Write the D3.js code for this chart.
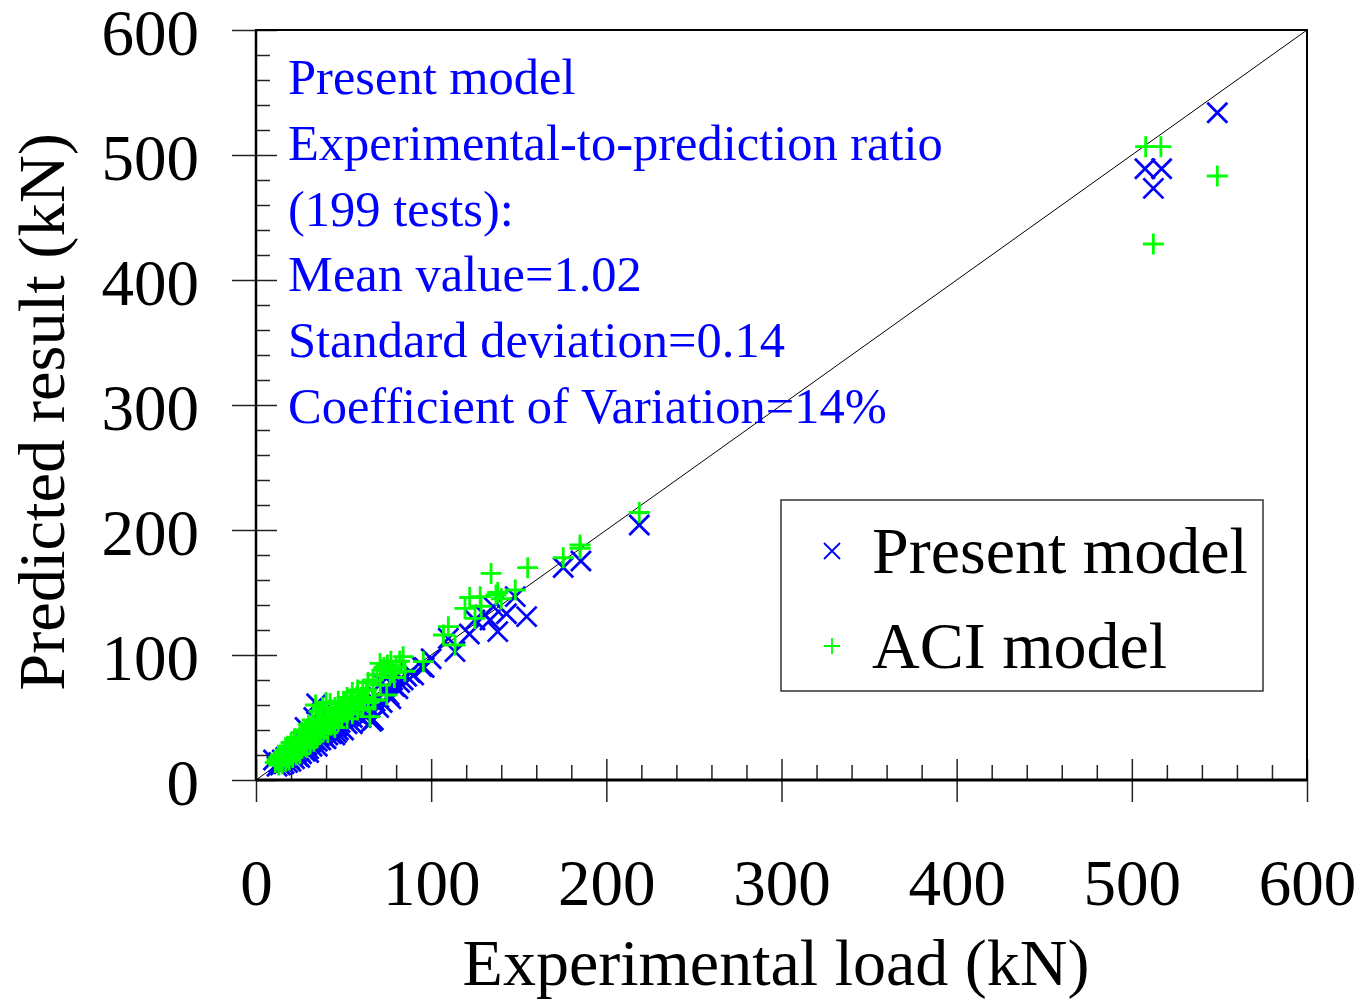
<!DOCTYPE html>
<html>
<head>
<meta charset="utf-8">
<script src="https://cdn.jsdelivr.net/npm/d3@7"></script>
<style>
  body { margin: 0; background: #fff; }
  svg { display: block; font-family: "Liberation Serif", "Times New Roman", serif; }
</style>
</head>
<body>
<div id="chart"></div>
<script>
// Present model predictions [experimental, predicted] (kN)
const presentModel = [
  [10,16],[12,11],[13,14],[14,12],[15,16],[16,13],[17,18],[18,14],[19,17],[20,15],
  [21,20],[22,17],[23,22],[24,19],[25,23],[26,21],[27,26],[28,23],[29,28],[30,25],
  [31,30],[32,27],[33,32],[34.6,61],[35,31],[36,35],[37,32],[38,37],[39,34],[40,39],
  [41,36],[42,41],[43,37],[44,43],[46,43],[47,40],[48,46],[50,48],[52,45],[53,51],
  [55,50],[56,54],[58,52],[60,57],[61,53],[63,60],[65,58],[67,48],[68,63],[70,66],
  [72,62],[74,71],[76,68],[77,65],[79,75],[81,73],[84,80],[86,83],[88,86],[90,84],
  [25,18],[30,22],[35,27],[40,33],[45,36],[50,40],[55,45],[60,50],[64,52],[70,58],
  [33,50],[38,54],[28,42],[72,78],[78,80],[82,78],[46,38],[66,47],
  [94.6,90.7],[96,90],[100,97],[109.8,113.3],[113.6,102.7],[121.8,116.8],[125,128],
  [130.7,132],[133.6,128],[135.5,138.7],[138,118.7],[143,133],[148,146.7],[154.5,130.7],
  [175.4,170],[185.5,175.2],[218.8,204],[507.5,489],[517,489],[512.3,473.3],[548.8,533.8]
];

// ACI model predictions [experimental, predicted] (kN)
const aciModel = [
  [11,14],[12,16],[13,12],[13,18],[14,15],[14,20],[15,13],[15,17],[16,19],[16,22],
  [17,15],[17,24],[18,18],[18,21],[19,26],[19,16],[20,20],[20,23],[21,25],[21,18],
  [22,28],[22,22],[23,20],[23,26],[24,30],[24,24],[25,27],[25,21],[26,32],[27,28],
  [27,35],[28,30],[29,26],[29,38],[30,33],[31,29],[31,40],[32,36],[33,31],[33,44],
  [34,38],[35,34],[35,46],[36,41],[37,37],[37,49],[38,43],[39,40],[40,45],[40,52],
  [41,38],[42,48],[42.3,61.3],[43,44],[43,55],[44,50],[45,42],[46,53],[47,47],[48,58],
  [49,51],[50,55],[51,60],[52,49],[53,57],[54,63],[55,53],[56,60],[57.5,66.7],[58,56],
  [59,63],[61,72],[61,58],[62,66],[63,72],[64,62],[65,50.7],[66.8,80],[66.8,64],[68,64],
  [20,30],[25,34],[28,40],[30,44],[32,48],[36,55],[38,58],[40,62],[34,60],[45,58],
  [47,63],[50,62],[26,38],[22,33],[18,27],[44,47],[52,66],[55,70],[58,72],[60,66],
  [64,78],[69,84],[71,76],[73,90],[77,95],[79,82],[82,95],
  [70.8,93.3],[72,88],[74.6,68],[75,92],[76.5,85.3],[78,86],[80,90],[84,98.7],[85,87],
  [95.5,94.7],[107,116],[109.8,122.7],[113.6,108],[119.3,137.3],[122,146],[125,129.3],
  [128,146.7],[128.5,139],[134.2,165.3],[137,148],[138,150],[140,145],[148,152],
  [155.1,169.9],[175.4,177.8],[185,185.3],[185,188],[218.8,214],
  [507.9,506.7],[516.6,506.7],[548.8,483.2],[512.3,428.8]
];

const majorTicks = [0, 100, 200, 300, 400, 500, 600];
const minorTicks = [20, 40, 60, 80, 120, 140, 160, 180, 220, 240, 260, 280, 320, 340, 360, 380,
                    420, 440, 460, 480, 520, 540, 560, 580];
const statsLines = [
  "Present model",
  "Experimental-to-prediction ratio",
  "(199 tests):",
  "Mean value=1.02",
  "Standard deviation=0.14",
  "Coefficient of Variation=14%"
];
const seriesNames = ["Present model", "ACI model"];
const seriesColors = ["#0000ff", "#00ff00"];

const W = 1363, H = 999;
const svg = d3.select("#chart").append("svg").attr("width", W).attr("height", H);

const x = d3.scaleLinear().domain([0, 600]).range([256, 1307]);
const y = d3.scaleLinear().domain([0, 600]).range([780, 30]);

const cross = s => `M${-s},${-s}L${s},${s}M${-s},${s}L${s},${-s}`;
const plus = s => `M${-s},0H${s}M0,${-s}V${s}`;

// minor ticks (inside)
svg.append("g").attr("transform", "translate(0,780)")
  .call(d3.axisBottom(x).tickValues(minorTicks).tickSize(-15).tickFormat(""))
  .call(g => g.select(".domain").remove());
svg.append("g").attr("transform", "translate(256,0)")
  .call(d3.axisLeft(y).tickValues(minorTicks).tickSize(-14).tickFormat(""))
  .call(g => g.select(".domain").remove());

// major ticks, inner part
svg.append("g").attr("transform", "translate(0,780)")
  .call(d3.axisBottom(x).tickValues(majorTicks).tickSize(-21).tickFormat(""))
  .call(g => g.select(".domain").remove());
svg.append("g").attr("transform", "translate(256,0)")
  .call(d3.axisLeft(y).tickValues(majorTicks).tickSize(-21).tickFormat(""))
  .call(g => g.select(".domain").remove());

// major ticks, outer part with labels
svg.append("g").attr("transform", "translate(0,780)")
  .call(d3.axisBottom(x).tickValues(majorTicks).tickSize(22).tickPadding(57))
  .call(g => g.select(".domain").remove())
  .call(g => g.selectAll("text").attr("font-size", 65).attr("fill", "#000")
    .attr("font-family", "Liberation Serif"));
svg.append("g").attr("transform", "translate(256,0)")
  .call(d3.axisLeft(y).tickValues(majorTicks).tickSize(24).tickPadding(33))
  .call(g => g.select(".domain").remove())
  .call(g => g.selectAll("text").attr("font-size", 65).attr("fill", "#000")
    .attr("font-family", "Liberation Serif").attr("dy", "0.37em"));

svg.selectAll(".tick line").attr("stroke", "#222").attr("stroke-width", 1.5);

// frame
svg.append("rect")
  .attr("x", x(0)).attr("y", y(600))
  .attr("width", x(600) - x(0)).attr("height", y(0) - y(600))
  .attr("fill", "none").attr("stroke", "#000").attr("stroke-width", 2);
svg.append("line")
  .attr("x1", x(0)).attr("x2", x(600)).attr("y1", y(0)).attr("y2", y(0))
  .attr("stroke", "#000").attr("stroke-width", 3);
svg.append("line")
  .attr("x1", x(0)).attr("x2", x(0)).attr("y1", y(0)).attr("y2", y(600))
  .attr("stroke", "#000").attr("stroke-width", 2.5);

// 1:1 line
svg.append("line")
  .attr("x1", x(0)).attr("y1", y(0)).attr("x2", x(600)).attr("y2", y(600))
  .attr("stroke", "#000").attr("stroke-width", 1);

// stats text
svg.append("g").selectAll("text")
  .data(statsLines).enter().append("text")
  .attr("x", 288)
  .attr("y", (d, i) => 94 + i * 65.8)
  .attr("font-size", 50.5)
  .attr("fill", "#0000ff")
  .text(d => d);

// points
svg.append("g").selectAll("path")
  .data(presentModel).enter().append("path")
  .attr("transform", d => `translate(${x(d[0])},${y(d[1])})`)
  .attr("d", cross(10))
  .attr("stroke", seriesColors[0]).attr("stroke-width", 2.8).attr("fill", "none");
svg.append("g").selectAll("path")
  .data(aciModel).enter().append("path")
  .attr("transform", d => `translate(${x(d[0])},${y(d[1])})`)
  .attr("d", plus(10.5))
  .attr("stroke", seriesColors[1]).attr("stroke-width", 2.8).attr("fill", "none");

// axis titles
svg.append("text")
  .attr("x", 776).attr("y", 985)
  .attr("text-anchor", "middle").attr("font-size", 66)
  .text("Experimental load (kN)");
svg.append("text")
  .attr("transform", "translate(64,412) rotate(-90)")
  .attr("text-anchor", "middle").attr("font-size", 66.5)
  .text("Predicted result (kN)");

// legend
const legend = svg.append("g");
legend.append("rect")
  .attr("x", 781).attr("y", 500).attr("width", 482).attr("height", 191)
  .attr("fill", "#fff").attr("stroke", "#333").attr("stroke-width", 1.5);
const items = legend.selectAll("g.item")
  .data(seriesNames).enter().append("g")
  .attr("transform", (d, i) => `translate(832,${551 + i * 95})`);
items.append("path")
  .attr("d", (d, i) => i === 0 ? cross(8) : plus(8))
  .attr("stroke", (d, i) => seriesColors[i]).attr("stroke-width", 1.8).attr("fill", "none");
items.append("text")
  .attr("x", 40).attr("y", 22)
  .attr("font-size", 66)
  .text(d => d);
</script>
</body>
</html>
